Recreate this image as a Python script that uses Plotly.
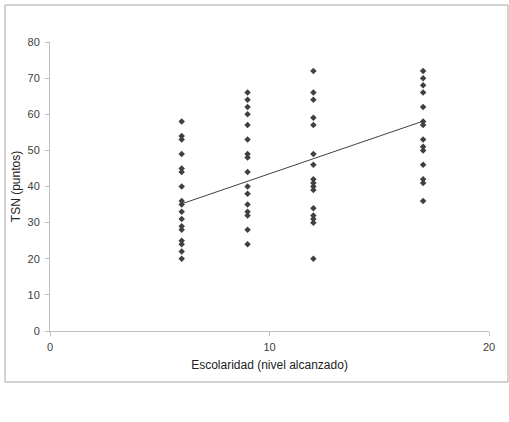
import plotly.graph_objects as go

# Escolaridad (nivel alcanzado) groups and TSN scores
esc_6 = [58, 54, 53, 49, 45, 44, 40, 36, 35, 33, 31, 29, 28, 25, 24, 22, 20]
esc_9 = [66, 64, 62, 60, 57, 53, 49, 48, 44, 40, 38, 35, 33, 32, 28, 24]
esc_12 = [72, 66, 64, 59, 57, 49, 46, 42, 41, 40, 39, 34, 32, 31, 30, 20]
esc_17 = [72, 70, 68, 66, 62, 58, 57, 53, 51, 50, 46, 42, 41, 36]
levels = [6, 9, 12, 17]

# linear trend line endpoints
trend_x = [6, 17]
trend_y = [35.2, 58.1]

x_vals = []
y_vals = []
for lvl, ys in zip(levels, [esc_6, esc_9, esc_12, esc_17]):
    x_vals += [lvl] * len(ys)
    y_vals += ys

fig = go.Figure()
fig.add_trace(go.Scatter(
    x=trend_x, y=trend_y, mode="lines",
    line=dict(color="#404040", width=1),
    hoverinfo="skip",
))
fig.add_trace(go.Scatter(
    x=x_vals, y=y_vals, mode="markers",
    marker=dict(symbol="diamond", size=5, color="#404040",
                line=dict(width=0)),
))

axis_common = dict(
    showgrid=False, zeroline=False,
    showline=True, linecolor="#bfbfbf", linewidth=1,
    ticks="outside", tickcolor="#bfbfbf", ticklen=4,
    tickfont=dict(family="Liberation Sans, Arial", size=11, color="#404040"),
)

fig.update_layout(
    width=509, height=422,
    margin=dict(l=50, r=20, t=42, b=91),
    paper_bgcolor="white", plot_bgcolor="white",
    showlegend=False,
    font=dict(family="Liberation Sans, Arial", color="#222222"),
    xaxis=dict(range=[0, 20], tickvals=[0, 10, 20], ticklabelstandoff=2,
               title=dict(text="Escolaridad (nivel alcanzado)",
                          font=dict(size=12), standoff=8),
               **axis_common),
    yaxis=dict(range=[0, 80], dtick=10, ticklabelstandoff=3,
               title=dict(text="TSN (puntos)", font=dict(size=12),
                          standoff=4),
               **axis_common),
    shapes=[dict(
        type="rect", xref="paper", yref="paper",
        x0=-0.1025, x1=1.0433, y0=-0.1765, y1=1.128,
        line=dict(color="#a6a6a6", width=1), fillcolor="rgba(0,0,0,0)",
    )],
)

fig.write_html("out.html", config={"displayModeBar": False},
               post_script="document.body.style.margin='0';")
